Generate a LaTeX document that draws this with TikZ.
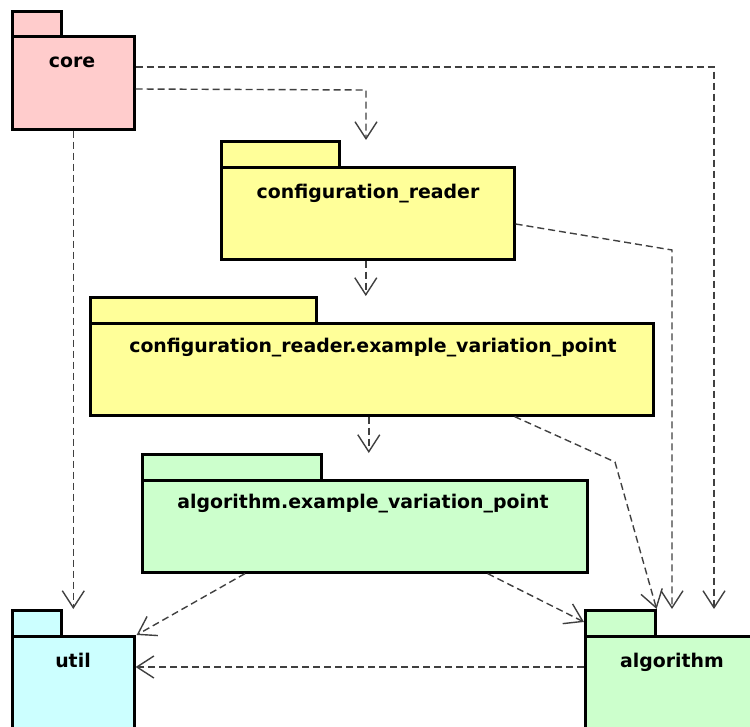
\documentclass[tikz,border=0pt]{standalone}
\usepackage{fontspec}
\setmainfont{DejaVu Sans}
\usetikzlibrary{arrows.meta}
\definecolor{pkgred}{HTML}{FFCCCC}
\definecolor{pkgyellow}{HTML}{FFFF99}
\definecolor{pkggreen}{HTML}{CCFFCC}
\definecolor{pkgcyan}{HTML}{CCFFFF}
\definecolor{depgray}{HTML}{404040}
\tikzset{
  pkgpart/.style={draw=black, line width=2.6pt, inner sep=0pt, anchor=north west},
  pkglabel/.style={anchor=base, inner sep=0pt, font=\bfseries\fontsize{18.9}{22}\selectfont},
  dep/.style={draw=depgray, line width=1.4pt, dash pattern=on 7pt off 4pt,
    -{Straight Barb[length=17pt, width=22pt, line width=1.4pt]}},
}
\begin{document}
\begin{tikzpicture}[x=1pt, y=-1pt]
\useasboundingbox (0,0) rectangle (750,727);

% packages: tab first, then the body on top of it
\node[pkgpart, fill=pkgred, minimum width=49pt, minimum height=25pt] (coretab) at (11,10) {};
\node[pkgpart, fill=pkgred, minimum width=122pt, minimum height=93pt] (core) at (11,35) {};
\node[pkglabel] (corelbl) at (72,68) {core};

\node[pkgpart, fill=pkgyellow, minimum width=118pt, minimum height=26pt] (crtab) at (220,140) {};
\node[pkgpart, fill=pkgyellow, minimum width=293pt, minimum height=92pt] (cr) at (220,166) {};
\node[pkglabel] (crlbl) at (368,199) {configuration\_reader};

\node[pkgpart, fill=pkgyellow, minimum width=226pt, minimum height=26pt] (crevptab) at (89,296) {};
\node[pkgpart, fill=pkgyellow, minimum width=563pt, minimum height=92pt] (crevp) at (89,322) {};
\node[pkglabel] (crevplbl) at (373,353) {configuration\_reader.example\_variation\_point};

\node[pkgpart, fill=pkggreen, minimum width=179pt, minimum height=26pt] (algevptab) at (141,453) {};
\node[pkgpart, fill=pkggreen, minimum width=445pt, minimum height=92pt] (algevp) at (141,479) {};
\node[pkglabel] (algevplbl) at (363,508) {algorithm.example\_variation\_point};

\node[pkgpart, fill=pkgcyan, minimum width=49pt, minimum height=26pt] (utiltab) at (11,609) {};
\node[pkgpart, fill=pkgcyan, minimum width=122pt, minimum height=110pt] (util) at (11,635) {};
\node[pkglabel] (utillbl) at (73,667) {util};

\node[pkgpart, fill=pkggreen, minimum width=70pt, minimum height=26pt] (algtab) at (584,609) {};
\node[pkgpart, fill=pkggreen, minimum width=180pt, minimum height=110pt] (alg) at (584,635) {};
\node[pkglabel] (alglbl) at (672,667) {algorithm};

% bend points of the dependencies
\coordinate (b1) at (366,90);
\coordinate (b2) at (714,67);
\coordinate (b4) at (672,250);
\coordinate (b7) at (615,462);

% dependencies
\draw[dep] ([yshift=-54pt]core.north east) -- (b1) -- (b1 |- crtab.north);
\draw[dep] ([yshift=-32pt]core.north east) -- (b2) -- (b2 |- algtab.north);
\draw[dep] (core.south) -- (core.south |- utiltab.north);
\draw[dep] ([yshift=-58pt]cr.north east) -- (b4) -- (b4 |- algtab.north);
\draw[dep] ([xshift=-2pt]cr.south) -- ([xshift=-2pt]cr.south |- crevptab.north);
\draw[dep] ([xshift=-3pt]crevp.south) -- ([xshift=-3pt]crevp.south |- algevptab.north);
\draw[dep] ([xshift=-140pt]crevp.south east) -- (b7) -- (algtab.north east);
\draw[dep] ([xshift=104pt]algevp.south west) -- ([xshift=1pt]util.north east);
\draw[dep] ([xshift=-101pt]algevp.south east) -- ([yshift=-13pt]algtab.north west);
\draw[dep] ([yshift=-32pt]alg.north west) -- ([yshift=-32pt]alg.north west -| util.east);
\end{tikzpicture}
\end{document}
